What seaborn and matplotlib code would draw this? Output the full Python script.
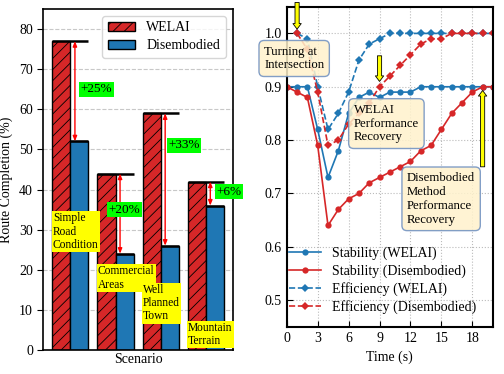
import matplotlib
matplotlib.use("Agg")
import matplotlib.pyplot as plt
import seaborn as sns
import pandas as pd

# --- data ---
scenarios = ["Simple\nRoad\nCondition", "Commercial\nAreas", "Well\nPlanned\nTown", "Mountain\nTerrain"]
methods = ["WELAI", "Disembodied"]
welai_rc = [77, 44, 59, 42]
dis_rc = [52, 24, 26, 36]
gain_labels = ["+25%", "+20%", "+33%", "+6%"]

t_stab = list(range(0, 21))
stab_welai = [0.90, 0.90, 0.90, 0.82, 0.73, 0.78, 0.85, 0.88, 0.89, 0.88, 0.89,
              0.89, 0.89, 0.90, 0.90, 0.90, 0.90, 0.90, 0.90, 0.90, 0.90]
stab_dis = [0.90, 0.89, 0.88, 0.79, 0.64, 0.67, 0.69, 0.70, 0.72, 0.73, 0.74,
            0.75, 0.76, 0.78, 0.79, 0.82, 0.85, 0.87, 0.89, 0.90, 0.90]
t_eff = list(range(1, 21))
eff_welai = [1.00, 0.99, 0.90, 0.82, 0.85, 0.89, 0.95, 0.98, 0.99, 1.00,
             1.00, 1.00, 1.00, 1.00, 1.00, 1.00, 1.00, 1.00, 1.00, 1.00]
eff_dis = [1.00, 0.97, 0.89, 0.79, 0.80, 0.83, 0.85, 0.87, 0.90, 0.92,
           0.94, 0.96, 0.98, 0.99, 0.99, 1.00, 1.00, 1.00, 1.00, 1.00]

# label placement (layout only)
gain_x = [0.23, 0.85, 2.16, 3.23]
gain_y = [65, 35, 51, 39.5]
scen_y = [29.5, 18, 11.7, 3.9]

RED = "#d62728"
BLUE = "#1f77b4"

plt.rcParams["font.family"] = ["Liberation Serif", "DejaVu Serif"]
plt.rcParams["hatch.linewidth"] = 0.6

fig = plt.figure(figsize=(5.04, 3.74), dpi=100)
ax1 = fig.add_axes([0.086, 0.064, 0.376, 0.912])
ax2 = fig.add_axes([0.569, 0.126, 0.409, 0.856])

# ---------------- left: route completion ----------------
df = pd.DataFrame({
    "Scenario": scenarios * 2,
    "Route Completion (%)": welai_rc + dis_rc,
    "Method": [methods[0]] * 4 + [methods[1]] * 4,
})
sns.barplot(data=df, x="Scenario", y="Route Completion (%)", hue="Method",
            palette=[RED, BLUE], saturation=1, edgecolor="black", linewidth=1,
            legend=False, ax=ax1, zorder=2)
for bar in ax1.containers[0]:
    bar.set_hatch("///")

for i in range(len(scenarios)):
    ax1.hlines(welai_rc[i], i - 0.4, i + 0.4, color="black", lw=1.8, zorder=3)
    ax1.hlines(dis_rc[i], i, i + 0.4, color="black", lw=1.8, zorder=3)
    ax1.annotate("", xy=(i + 0.1, welai_rc[i]), xytext=(i + 0.1, dis_rc[i]),
                 arrowprops=dict(arrowstyle="<|-|>,head_length=0.3,head_width=0.12",
                                 color="red", lw=1, shrinkA=0, shrinkB=0), zorder=4)
    ax1.text(gain_x[i], gain_y[i], gain_labels[i], ha="left", va="center", fontsize=9.5,
             bbox=dict(boxstyle="square,pad=0.1", fc="#00ff00", ec="none"), zorder=5)
    ax1.text(i - 0.39, scen_y[i], scenarios[i], ha="left", va="center", fontsize=8.3,
             linespacing=1.15,
             bbox=dict(boxstyle="square,pad=0.1", fc="yellow", ec="none"), zorder=5)

ax1.set_xlim(-0.6, 3.6)
ax1.set_ylim(0, 85)
ax1.set_xticks([])
ax1.set_yticks(range(0, 81, 10))
ax1.set_xlabel("Scenario", fontsize=10, labelpad=2)
ax1.set_ylabel("Route Completion (%)", fontsize=10)
ax1.tick_params(axis="y", direction="out", labelsize=10, length=4)
ax1.yaxis.grid(True, linestyle="--", color="#c8c8c8", lw=0.8)
ax1.set_axisbelow(True)
for s in ax1.spines.values():
    s.set_linewidth(1.2)
ax1.legend(list(ax1.containers), methods, loc="upper right", fontsize=10,
           labelspacing=0.35, edgecolor="#cccccc")

# ---------------- right: stability / efficiency ----------------
sns.lineplot(x=t_stab, y=stab_welai, ax=ax2, color=BLUE, marker="o", markersize=4.5,
             markeredgewidth=0, linewidth=1.2, label="Stability (WELAI)")
sns.lineplot(x=t_stab, y=stab_dis, ax=ax2, color=RED, marker="o", markersize=4.5,
             markeredgewidth=0, linewidth=1.2, label="Stability (Disembodied)")
sns.lineplot(x=t_eff, y=eff_welai, ax=ax2, color=BLUE, marker="D", markersize=4.5,
             markeredgewidth=0, linewidth=1.2, linestyle="--", label="Efficiency (WELAI)")
sns.lineplot(x=t_eff, y=eff_dis, ax=ax2, color=RED, marker="D", markersize=4.5,
             markeredgewidth=0, linewidth=1.2, linestyle="--", label="Efficiency (Disembodied)")

ax2.set_xlim(0, 20)
ax2.set_ylim(0.45, 1.05)
ax2.set_xticks(range(0, 19, 3))
ax2.set_yticks([0.5, 0.6, 0.7, 0.8, 0.9, 1.0])
ax2.set_xlabel("Time (s)", fontsize=10)
ax2.set_ylabel("")
ax2.tick_params(direction="in", labelsize=10, length=4)
ax2.grid(True, linestyle=":", color="#bbbbbb", lw=0.8)
for s in ax2.spines.values():
    s.set_linewidth(1.5)

arrow_kw = dict(arrowstyle="simple,head_length=0.4,head_width=0.6,tail_width=0.3",
                fc="yellow", ec="black", lw=0.6, shrinkA=0, shrinkB=0)
ax2.annotate("", xy=(1, 1.008), xytext=(1, 1.058), arrowprops=arrow_kw, annotation_clip=False)
ax2.annotate("", xy=(9, 0.91), xytext=(9, 0.958), arrowprops=arrow_kw)
ax2.annotate("", xy=(19, 0.893), xytext=(19, 0.75), arrowprops=arrow_kw)

box_kw = dict(boxstyle="round,pad=0.4", fc="#fff2cc", ec="#6c8ebf", alpha=0.85, lw=1)
ax2.text(-2.2, 0.953, "Turning at\nIntersection", ha="left", va="center", fontsize=9.2,
         bbox=box_kw, clip_on=False, zorder=6)
ax2.text(6.5, 0.831, "WELAI\nPerformance\nRecovery", ha="left", va="center", fontsize=9.2,
         bbox=box_kw, zorder=6)
ax2.text(11.67, 0.69, "Disembodied\nMethod\nPerformance\nRecovery", ha="left", va="center",
         fontsize=9.2, bbox=box_kw, zorder=6)

ax2.legend(loc="lower left", bbox_to_anchor=(-0.05, 0.0), frameon=False, fontsize=10,
           handlelength=2.3, handletextpad=0.8, labelspacing=0.3)

fig.savefig("out.png", dpi=100)
